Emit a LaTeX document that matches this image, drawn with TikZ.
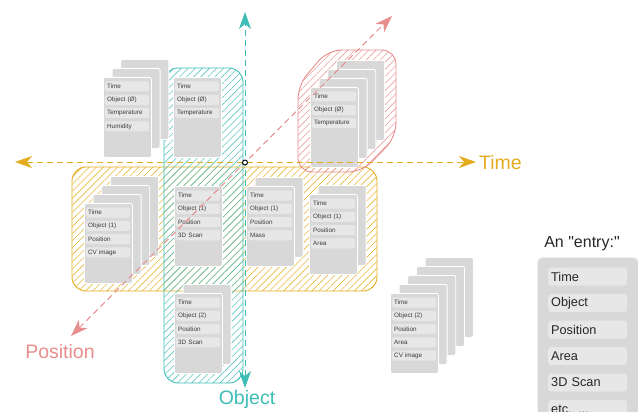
\documentclass[tikz,border=0pt]{standalone}
\usepackage{fontspec}
\setmainfont{Liberation Sans}[Ligatures=TeXOff]
\usetikzlibrary{arrows.meta,patterns.meta,calc}
\definecolor{tyel}{HTML}{E2AC1C}
\definecolor{tteal}{HTML}{3DBDB6}
\definecolor{tsal}{HTML}{E88D8D}
\definecolor{cardg}{HTML}{D8D8D8}
\definecolor{fieldg}{HTML}{E7E7E7}
\definecolor{txtg}{HTML}{3A3A3A}
\newcommand\etcdots{etc. ...}
\newcommand\frontcard[4]{% name, x, y, fields
  \node[card] (#1) at (#2,#3) {};
  \foreach \f [count=\i from 0] in {#4} {
    \node[field] (#1-f\i) at ($(#1.north west)+(2,{9.5+13.3*\i})$) {\f};
  }
}
\newcommand\backcards[4]{% name, x, y, offsets
  \foreach \k in {#4} {
    \node[card] (#1-\k) at ({#2+8.7*\k},{#3-9*\k}) {};
  }
}
\begin{document}
\begin{tikzpicture}[x=1pt,y=-1pt,
  card/.style={anchor=north west, minimum width=48pt, minimum height=80pt, inner sep=0pt,
    fill=cardg, draw=white, line width=0.8pt, rounded corners=2pt},
  field/.style={anchor=west, fill=fieldg, rounded corners=1.5pt, minimum height=10pt,
    text width=40pt, inner xsep=2pt, inner ysep=0pt, align=left,
    font=\fontsize{6.3}{7}\selectfont, text=txtg},
  bigfield/.style={anchor=west, fill=fieldg, rounded corners=3pt, minimum height=18pt,
    text width=73pt, inner xsep=3pt, inner ysep=0pt, align=left,
    font=\fontsize{12.7}{14}\selectfont, text=black!85},
  hatch/.style={draw=#1, pattern={Lines[angle=45,distance=5pt,line width=0.6pt]},
    pattern color=#1!85, line width=0.9pt, rounded corners=14pt},
  axis/.style={draw=#1, line width=1pt, dash pattern=on 6pt off 4pt,
    {Stealth[length=17pt,width=12pt,inset=5pt]}-{Stealth[length=17pt,width=12pt,inset=5pt]}},
  axlabel/.style={text=#1, font=\fontsize{19.5}{22}\selectfont, inner sep=0pt}
]
\useasboundingbox (0,0) rectangle (638,412);

% hatched groups
\path[hatch=tyel] (72,167) rectangle (377,291);
\path[hatch=tteal] (164,68) rectangle (243,383);
\path[hatch=tsal] (298,172) -- (298,85) -- (328,50) -- (396,50) -- (396,137) -- (362,172) -- cycle;

% stacks
\backcards{A}{103}{77}{2,1}
\frontcard{A}{103}{77}{Time,Object (Ø),Temperature,Humidity}
\frontcard{B}{173}{77}{Time,Object (Ø),Temperature}
\backcards{C}{310}{87}{3,2,1}
\frontcard{C}{310}{87}{Time,Object (Ø),Temperature}
\backcards{D}{84}{203}{3,2,1}
\frontcard{D}{84}{203}{Time,Object (1),Position,CV image}
\frontcard{E}{174}{186}{Time,Object (1),Position,3D Scan}
\backcards{F}{246}{186}{1}
\frontcard{F}{246}{186}{Time,Object (1),Position,Mass}
\backcards{G}{309}{194}{1}
\frontcard{G}{309}{194}{Time,Object (1),Position,Area}
\backcards{H}{174}{293}{1}
\frontcard{H}{174}{293}{Time,Object (2),Position,3D Scan}
\backcards{I}{390}{293}{4,3,2,1}
\frontcard{I}{390}{293}{Time,Object (2),Position,Area,CV image}

% entry legend
\node[font=\fontsize{16}{18}\selectfont, text=black!85] (entrytitle) at (582,244) {An "entry:"};
\node[card, minimum width=101pt, minimum height=200pt, rounded corners=5pt, draw=black!6] (N) at (537,257) {};
\foreach \f [count=\i from 0] in {Time,Object,Position,Area,3D Scan,\etcdots} {
  \node[bigfield] (N-f\i) at ($(N.north west)+(11,{19.5+26.5*\i})$) {\f};
}

% axes
\coordinate (tL) at (15,162);
\coordinate (tR) at (476,162);
\coordinate (oT) at (245,12);
\coordinate (oB) at (245,388);
\coordinate (pT) at (392,16);
\coordinate (pB) at (71,336);
\draw[axis=tsal] (pB) -- (pT);
\draw[axis=tyel] (tL) -- (tR);
\draw[axis=tteal] (oB) -- (oT);
\node[circle, draw=black, fill=white, line width=0.9pt, minimum size=5pt, inner sep=0pt] (O) at (245,162.5) {};

\node[axlabel=tyel, anchor=west] (timelabel) at (479,163) {Time};
\node[axlabel=tteal] (objlabel) at (247,399) {Object};
\node[axlabel=tsal] (poslabel) at (60,352) {Position};
\end{tikzpicture}
\end{document}
